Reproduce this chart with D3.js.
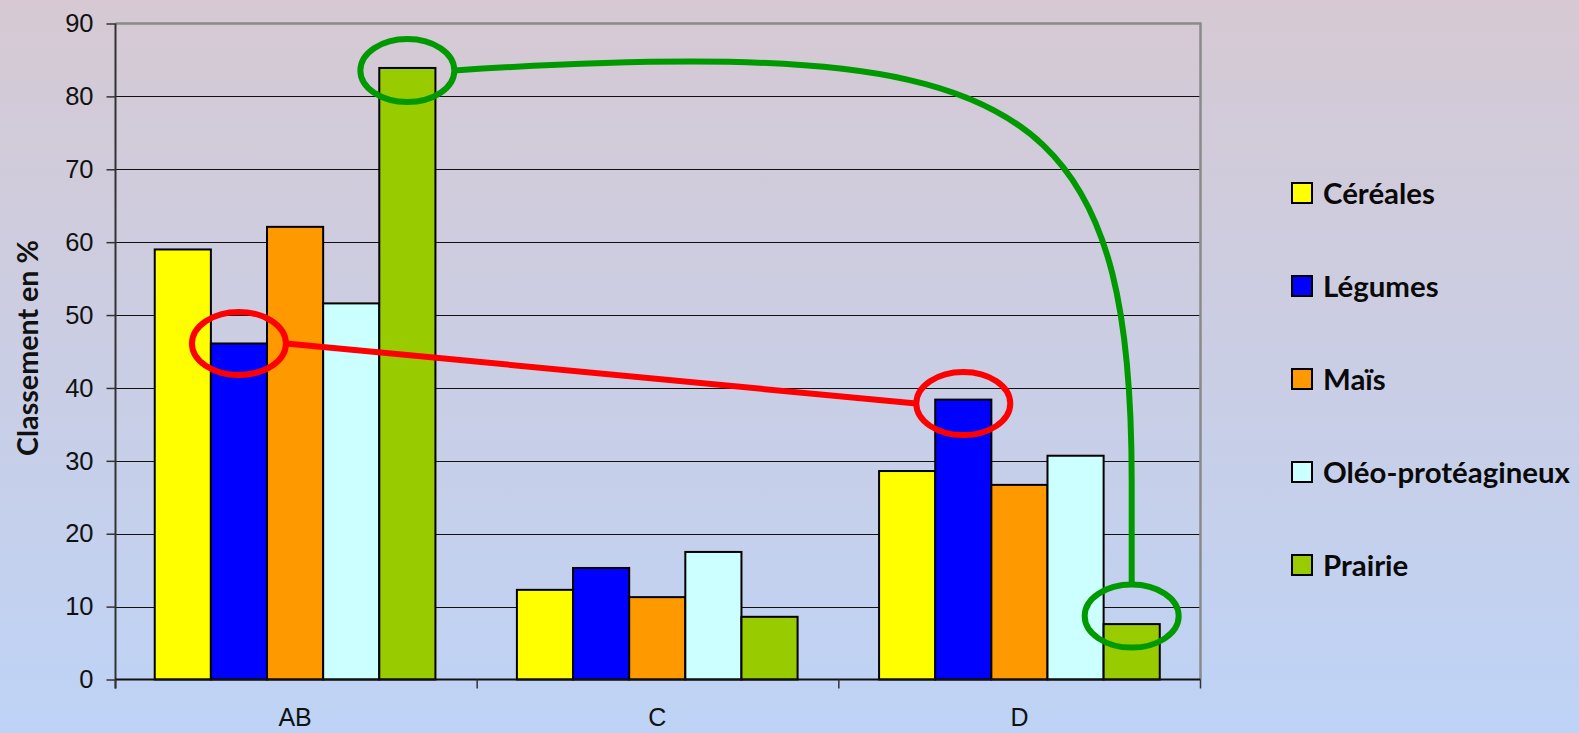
<!DOCTYPE html>
<html>
<head>
<meta charset="utf-8">
<script src="https://cdn.jsdelivr.net/npm/d3@7"></script>
<style>
  html, body { margin: 0; padding: 0; overflow: hidden; }
  svg { display: block; }
</style>
</head>
<body>
<svg id="chart" width="1579" height="733"></svg>
<script>
// ---- data ----
const categories = ["AB", "C", "D"];
const seriesNames = ["Céréales", "Légumes", "Maïs", "Oléo-protéagineux", "Prairie"];
const cereales = [59.0, 12.3, 28.6];
const legumes = [46.1, 15.3, 38.4];
const mais = [62.1, 11.3, 26.7];
const oleoProteagineux = [51.6, 17.5, 30.7];
const prairie = [83.9, 8.6, 7.6];
const yTicks = [0, 10, 20, 30, 40, 50, 60, 70, 80, 90];
const yTitle = "Classement en %";

const seriesValues = [cereales, legumes, mais, oleoProteagineux, prairie];
const seriesColors = ["#FFFF00", "#0000FF", "#FF9900", "#CCFFFF", "#99CC00"];

// ---- layout ----
const W = 1579, H = 733;
const plot = { left: 115.5, right: 1200.5, top: 23.5, bottom: 679.5 };

const svg = d3.select("#chart");

// background gradient
const defs = svg.append("defs");
const grad = defs.append("linearGradient")
  .attr("id", "bg").attr("x1", 0).attr("y1", 0).attr("x2", 0).attr("y2", 1);
grad.append("stop").attr("offset", "0%").attr("stop-color", "#d6c9d3");
grad.append("stop").attr("offset", "100%").attr("stop-color", "#bed3f6");
svg.append("rect").attr("width", W).attr("height", H).attr("fill", "url(#bg)");

// ---- scales ----
const x0 = d3.scaleBand()
  .domain(categories)
  .range([plot.left - 1.5, plot.right])
  .paddingInner(0.225)
  .paddingOuter(0.1125);
const x1 = d3.scaleBand()
  .domain(seriesNames)
  .range([0, x0.bandwidth()])
  .padding(0);
const y = d3.scaleLinear().domain([0, 90]).range([plot.bottom, plot.top]);

// ---- gridlines ----
const grid = svg.append("g")
  .attr("transform", `translate(${plot.left},0)`)
  .call(d3.axisLeft(y).tickValues(yTicks.filter(v => v > 0 && v < 90))
    .tickSize(-(plot.right - plot.left)).tickFormat(""));
grid.select(".domain").remove();
grid.selectAll("line").attr("stroke", "#111").attr("stroke-width", 1.2)
  .attr("shape-rendering", "crispEdges");

// plot border (top and right)
svg.append("path")
  .attr("d", `M${plot.left},${plot.top}H${plot.right}V${plot.bottom}`)
  .attr("fill", "none").attr("stroke", "#8a8a8a").attr("stroke-width", 2.5);

// ---- bars ----
const groups = svg.append("g").selectAll("g")
  .data(categories)
  .join("g")
  .attr("transform", c => `translate(${x0(c)},0)`);

groups.selectAll("rect")
  .data((c, ci) => seriesNames.map((s, si) => ({ s, si, v: seriesValues[si][ci] })))
  .join("rect")
  .attr("x", d => x1(d.s))
  .attr("y", d => y(d.v))
  .attr("width", x1.bandwidth())
  .attr("height", d => y(0) - y(d.v))
  .attr("fill", d => seriesColors[d.si])
  .attr("stroke", "#000")
  .attr("stroke-width", 2);

// ---- axes ----
const yAxis = svg.append("g")
  .attr("transform", `translate(${plot.left},0)`)
  .call(d3.axisLeft(y).tickValues(yTicks).tickSize(9).tickPadding(13));
yAxis.select(".domain").attr("stroke", "#333").attr("stroke-width", 2)
  .attr("d", `M0,${plot.top}V${plot.bottom + 9}`);
yAxis.selectAll(".tick line").attr("stroke", "#333").attr("stroke-width", 1.5);
yAxis.selectAll("text")
  .attr("font-family", "'Liberation Sans', Arial, sans-serif")
  .attr("font-size", 25.5).attr("fill", "#111");

const xAxis = svg.append("g")
  .attr("transform", `translate(0,${plot.bottom})`)
  .call(d3.axisBottom(x0).tickSize(0).tickPadding(29));
xAxis.select(".domain").attr("stroke", "#111").attr("stroke-width", 2)
  .attr("d", `M${plot.left},0H${plot.right}`);
xAxis.selectAll("text")
  .attr("font-family", "'Liberation Sans', Arial, sans-serif")
  .attr("font-size", 25).attr("fill", "#111");

// category boundary ticks
const step = (plot.right - plot.left) / categories.length;
const bounds = d3.range(categories.length + 1).map(i => plot.left + i * step);
xAxis.selectAll(".bound")
  .data(bounds)
  .join("line")
  .attr("class", "bound")
  .attr("x1", d => d).attr("x2", d => d)
  .attr("y1", 0).attr("y2", 9)
  .attr("stroke", "#333").attr("stroke-width", 1.5);

// ---- axis title ----
const title = svg.append("text")
  .attr("transform", "translate(38,348) rotate(-90)")
  .attr("text-anchor", "middle")
  .attr("font-family", "Lato, 'Open Sans', sans-serif")
  .attr("font-weight", "bold")
  .attr("font-size", 100)
  .attr("fill", "#111")
  .text(yTitle);
const tw = title.node().getComputedTextLength();
title.attr("font-size", 100 * 216 / tw);

// ---- legend ----
const legend = svg.append("g").attr("transform", "translate(1292,193)");
const items = legend.selectAll("g")
  .data(seriesNames)
  .join("g")
  .attr("transform", (d, i) => `translate(0,${i * 93})`);
items.append("rect")
  .attr("x", 0).attr("y", -10).attr("width", 20).attr("height", 20)
  .attr("fill", (d, i) => seriesColors[i])
  .attr("stroke", "#000").attr("stroke-width", 2);
const legTexts = items.append("text")
  .attr("x", 31).attr("dy", "0.36em")
  .attr("font-family", "Lato, 'Open Sans', sans-serif")
  .attr("font-weight", "bold")
  .attr("font-size", 100)
  .attr("fill", "#0a0a0a")
  .text(d => d);
const widest = d3.max(legTexts.nodes(), n => n.getComputedTextLength());
legTexts.attr("font-size", 100 * 247 / widest);

// ---- highlight annotations ----
const rx = 47, ry = 31.5;
function markAt(series, cat, dy) {
  const si = seriesNames.indexOf(series);
  const ci = categories.indexOf(cat);
  return {
    cx: x0(cat) + x1(series) + x1.bandwidth() / 2,
    cy: y(seriesValues[si][ci]) + dy
  };
}
const redA = markAt("Légumes", "AB", 0);
const redB = markAt("Légumes", "D", 4);
const greenA = markAt("Prairie", "AB", 2.5);
const greenB = markAt("Prairie", "D", -8);

const ann = svg.append("g").attr("fill", "none").attr("stroke-width", 6);

// red: straight link between the two Légumes marks
ann.append("line")
  .attr("x1", redA.cx + rx).attr("y1", redA.cy)
  .attr("x2", redB.cx - rx).attr("y2", redB.cy)
  .attr("stroke", "#FF0000");
[redA, redB].forEach(p => ann.append("ellipse")
  .attr("cx", p.cx).attr("cy", p.cy).attr("rx", rx).attr("ry", ry)
  .attr("stroke", "#FF0000"));

// green: curved link from AB Prairie down to D Prairie
const S = { x: greenA.cx + rx, y: greenA.cy };
const E = { x: greenB.cx, y: greenB.cy - ry };
const dxG = E.x - S.x, dyG = E.y - S.y;
const peakY = S.y - 9;
const gp = d3.path();
gp.moveTo(S.x, S.y);
gp.bezierCurveTo(S.x + 0.11 * dxG, S.y - 5, S.x + 0.23 * dxG, peakY, S.x + 0.35 * dxG, peakY);
gp.bezierCurveTo(S.x + 0.869 * dxG, peakY, E.x, S.y + 0.146 * dyG, E.x, S.y + 0.797 * dyG);
gp.lineTo(E.x, E.y);
ann.append("path").attr("d", gp.toString()).attr("stroke", "#009900");
[greenA, greenB].forEach(p => ann.append("ellipse")
  .attr("cx", p.cx).attr("cy", p.cy).attr("rx", rx).attr("ry", ry)
  .attr("stroke", "#009900"));
</script>
</body>
</html>
